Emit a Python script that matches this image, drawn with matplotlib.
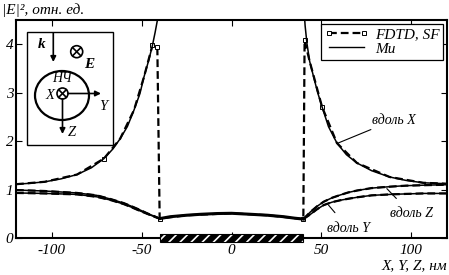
import matplotlib
matplotlib.use("Agg")
import matplotlib.pyplot as plt
from matplotlib.patches import Rectangle, Ellipse, Circle, FancyArrowPatch
from matplotlib.lines import Line2D

plt.rcParams['font.family'] = ['Liberation Serif', 'DejaVu Serif']
plt.rcParams['font.style'] = 'italic'
plt.rcParams['hatch.linewidth'] = 1.2

# ---- data (Mie) ----
mie_xl_x = [-120, -112, -104, -95, -86, -78, -71, -66, -62, -58, -54.3, -51, -48.7, -46, -44, -42.5, -41.3, -40.6]
mie_xl_y = [1.11, 1.13, 1.16, 1.22, 1.31, 1.45, 1.64, 1.84, 2.05, 2.30, 2.64, 2.98, 3.33, 3.68, 3.98, 4.25, 4.49, 4.75]
mie_xr_x = [40.3, 41, 42, 43.5, 45.7, 48, 50.4, 54, 58.7, 64, 69.8, 78, 88, 97, 106.7, 120]
mie_xr_y = [4.75, 4.38, 4.02, 3.65, 3.33, 3.00, 2.71, 2.30, 1.96, 1.72, 1.55, 1.39, 1.26, 1.19, 1.14, 1.12]

side_l_x = [-120, -104, -86, -75, -67, -60, -56, -51, -47, -43, -40]
side_l_z = [0.99, 0.97, 0.93, 0.88, 0.80, 0.72, 0.66, 0.58, 0.51, 0.45, 0.40]
side_l_y = [0.93, 0.92, 0.90, 0.85, 0.78, 0.70, 0.64, 0.56, 0.50, 0.44, 0.40]

side_r_x = [40, 44, 47.5, 51.4, 56, 60.7, 65, 69.9, 78, 88.4, 97, 107, 120]
side_r_z = [0.39, 0.54, 0.65, 0.75, 0.83, 0.89, 0.94, 0.98, 1.03, 1.06, 1.08, 1.09, 1.10]
side_r_y = [0.39, 0.49, 0.59, 0.68, 0.74, 0.78, 0.81, 0.84, 0.88, 0.90, 0.91, 0.92, 0.92]

in_x = [-40, -34, -25, -17, -8, 0, 10.5, 20, 29, 35, 40]
in_y = [0.40, 0.44, 0.47, 0.49, 0.505, 0.51, 0.49, 0.47, 0.44, 0.41, 0.39]

# ---- data (FDTD, SF) ----
fd_x_x = [-120, -104, -86, -71, -62, -54.3, -48.7, -44, -41.3, -40, -25, 0, 20, 40, 40.7, 43.5, 50.4, 58.7, 69.8, 88, 106.7, 120]
fd_x_y = [1.11, 1.16, 1.31, 1.64, 2.05, 2.64, 3.33, 3.98, 3.94, 0.40, 0.47, 0.51, 0.47, 0.39, 4.08, 3.65, 2.71, 1.96, 1.55, 1.26, 1.14, 1.12]

# ---- text ----
ticks_x = [-100, -50, 0, 50, 100]
ticks_y = [0, 1, 2, 3, 4]

W, H = 449, 275
fig = plt.figure(figsize=(W / 100, H / 100), dpi=100)
L, R, T, B = 16, 447, 20, 238
ax = fig.add_axes([L / W, 1 - B / H, (R - L) / W, (B - T) / H])
ax.set_xlim(-120, 120)
ax.set_ylim(0, 4.5)

fdkw = dict(color='black', lw=1.6, ls=(0, (3.5, 1.8)), marker='s', ms=3,
            mfc='white', mec='black', mew=0.7)
ax.plot(fd_x_x, fd_x_y, markevery=[3, 7, 8, 9, 13, 14, 16], **fdkw)
ax.plot(side_l_x, side_l_z, color='black', lw=1.6, ls=(0, (3.5, 1.8)))
ax.plot(side_l_x, side_l_y, color='black', lw=1.6, ls=(0, (3.5, 1.8)))
ax.plot(side_r_x, side_r_z, color='black', lw=1.6, ls=(0, (3.5, 1.8)))
ax.plot(side_r_x, side_r_y, color='black', lw=1.6, ls=(0, (3.5, 1.8)))

mkw = dict(color='black', lw=1.1)
ax.plot(mie_xl_x, mie_xl_y, **mkw)
ax.plot(mie_xr_x, mie_xr_y, **mkw)
ax.plot(side_l_x, side_l_z, **mkw)
ax.plot(side_l_x, side_l_y, **mkw)
ax.plot(side_r_x, side_r_z, **mkw)
ax.plot(side_r_x, side_r_y, **mkw)
ax.plot(in_x, in_y, color='black', lw=2.2)

# hatched particle bar
ax.add_patch(Rectangle((-40, -0.075), 80, 0.15, facecolor='black', edgecolor='white',
                       hatch='///', lw=0, clip_on=False, zorder=5))
ax.add_patch(Rectangle((-40, -0.075), 80, 0.15, facecolor='none', edgecolor='black',
                       lw=0.8, clip_on=False, zorder=6))

ax.set_xticks(ticks_x)
ax.set_xticklabels([str(t) for t in ticks_x])
ax.set_yticks(ticks_y)
ax.set_yticklabels([str(t) for t in ticks_y])
ax.tick_params(direction='in', length=4, width=0.8, top=True, right=True,
               labelsize=11, pad=2)
ax.tick_params(axis='x', pad=4)
for s in ax.spines.values():
    s.set_linewidth(1.5)

# annotations
ax.annotate('вдоль X', xy=(58.7, 1.95), xytext=(78, 2.43), fontsize=10,
            va='center', ha='left', arrowprops=dict(arrowstyle='-', lw=0.8, color='black',
                                                    shrinkA=0, shrinkB=0))
ax.annotate('вдоль Z', xy=(86.5, 1.02), xytext=(88, 0.50), fontsize=10,
            va='center', ha='left', arrowprops=dict(arrowstyle='-', lw=0.8, color='black',
                                                    shrinkA=6, shrinkB=0))
ax.annotate('вдоль Y', xy=(54, 0.68), xytext=(53, 0.20), fontsize=10,
            va='center', ha='left', arrowprops=dict(arrowstyle='-', lw=0.8, color='black',
                                                    shrinkA=6, shrinkB=0))

# legend
h1 = Line2D([], [], **fdkw)
h2 = Line2D([], [], color='black', lw=1.0)
leg = ax.legend([h1, h2], ['FDTD, SF', 'Ми'], loc='upper right', fontsize=11,
                frameon=True, fancybox=False, framealpha=1, edgecolor='black',
                handlelength=2.9, numpoints=2, borderaxespad=0.25, borderpad=0.25,
                labelspacing=0.05, handletextpad=0.4)
leg.get_frame().set_linewidth(0.9)

fig.text(2 / W, 1 - 10 / H, '|E|², отн. ед.', fontsize=11, va='center', ha='left')
fig.text(447 / W, 1 - 266 / H, 'X, Y, Z, нм', fontsize=11, va='center', ha='right')

# inset schematic (pixel coordinates overlay)
ov = fig.add_axes([0, 0, 1, 1], zorder=10)
ov.set_xlim(0, W)
ov.set_ylim(H, 0)
ov.axis('off')
ov.add_patch(Rectangle((26.7, 31.7), 86, 113.3, facecolor='white', edgecolor='black', lw=1.0))
ov.add_patch(Ellipse((62, 95.5), 54, 49, facecolor='none', edgecolor='black', lw=1.6))
for cx, cy, r in [(62.5, 93.5, 5.5), (76.7, 51.7, 6)]:
    ov.add_patch(Circle((cx, cy), r, facecolor='white', edgecolor='black', lw=1.2))
    d = r * 0.68
    ov.plot([cx - d, cx + d], [cy - d, cy + d], color='black', lw=1.2)
    ov.plot([cx - d, cx + d], [cy + d, cy - d], color='black', lw=1.2)
akw = dict(arrowstyle='-|>', mutation_scale=8, lw=1.2, color='black', shrinkA=0, shrinkB=0)
ov.add_patch(FancyArrowPatch((53.3, 33), (53.3, 62), **akw))
ov.add_patch(FancyArrowPatch((68, 93.5), (101, 93.5), **akw))
ov.add_patch(FancyArrowPatch((62.5, 99), (62.5, 134), **akw))
ov.text(41.7, 44, 'k', fontsize=11, fontweight='bold', ha='center', va='center')
ov.text(89, 64, 'E', fontsize=11, fontweight='bold', ha='center', va='center')
ov.text(62, 79, 'НЧ', fontsize=10, ha='center', va='center')
ov.text(50, 95.5, 'X', fontsize=10.5, ha='center', va='center')
ov.text(103.5, 106, 'Y', fontsize=10.5, ha='center', va='center')
ov.text(72, 133, 'Z', fontsize=10.5, ha='center', va='center')

fig.savefig('out.png', dpi=100)
